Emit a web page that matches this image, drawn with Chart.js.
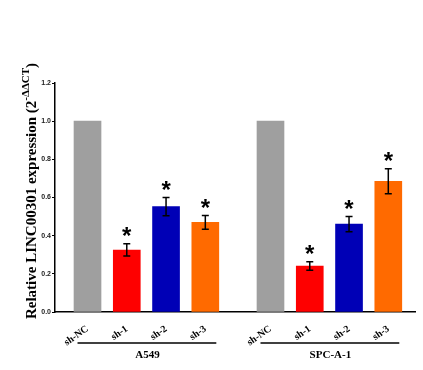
<!DOCTYPE html>
<html>
<head>
<meta charset="utf-8">
<script src="https://cdn.jsdelivr.net/npm/chart.js@4/dist/chart.umd.min.js"></script>
<style>
html,body{margin:0;padding:0;background:#fff;}
#wrap{width:423px;height:370px;position:relative;}
</style>
</head>
<body>
<div id="wrap"><canvas id="c" width="423" height="370"></canvas></div>
<script>
const categories = ['sh-NC','sh-1','sh-2','sh-3','sh-NC','sh-1','sh-2','sh-3'];
const positions = [0, 1, 2, 3, 4.66, 5.66, 6.66, 7.66];
const values = [1.0, 0.325, 0.552, 0.470, 1.0, 0.241, 0.461, 0.685];
const errors = [0, 0.032, 0.048, 0.036, 0, 0.022, 0.040, 0.066];
const significant = [false, true, true, true, false, true, true, true];
const barColors = ['#9f9f9f','#fe0000','#0000b6','#ff6a00','#9f9f9f','#fe0000','#0000b6','#ff6a00'];
const groups = ['A549','SPC-A-1'];
const groupMembers = [[0,3],[4,7]];
const yTicks = [0, 0.2, 0.4, 0.6, 0.8, 1.0, 1.2];

const serif = '"Liberation Serif", "Times New Roman", serif';
const sans = '"Liberation Sans", Arial, sans-serif';

const extras = {
  id: 'extras',
  afterDatasetsDraw(chart) {
    const ctx = chart.ctx;
    const xs = chart.scales.x, ys = chart.scales.y;
    ctx.save();
    ctx.strokeStyle = '#000';
    ctx.lineWidth = 1.5;
    values.forEach((v, i) => {
      const x = xs.getPixelForValue(positions[i]);
      if (errors[i] > 0) {
        const t = ys.getPixelForValue(v + errors[i]);
        const b = ys.getPixelForValue(v - errors[i]);
        ctx.beginPath();
        ctx.moveTo(x, t); ctx.lineTo(x, b);
        ctx.moveTo(x - 3.5, t); ctx.lineTo(x + 3.5, t);
        ctx.moveTo(x - 3.5, b); ctx.lineTo(x + 3.5, b);
        ctx.stroke();
      }
      if (significant[i]) {
        const top = ys.getPixelForValue(v + errors[i]);
        ctx.font = 'bold 24px ' + sans;
        ctx.fillStyle = '#000';
        ctx.textAlign = 'center';
        ctx.textBaseline = 'alphabetic';
        const m = ctx.measureText('*');
        const asc = m.actualBoundingBoxAscent, desc = m.actualBoundingBoxDescent;
        const cy = top - 12;
        const base = cy + (asc - desc) / 2;
        ctx.fillText('*', x, base);
      }
    });
    const lineY = 343, labY = 355;
    groups.forEach((g, k) => {
      const a = xs.getPixelForValue(positions[groupMembers[k][0]]);
      const b = xs.getPixelForValue(positions[groupMembers[k][1]]);
      ctx.beginPath();
      ctx.lineWidth = 1.5;
      ctx.moveTo(a - 10, lineY); ctx.lineTo(b + 11, lineY);
      ctx.stroke();
      ctx.font = 'bold 11px ' + serif;
      ctx.textAlign = 'center';
      ctx.textBaseline = 'middle';
      ctx.fillText(g, (a + b) / 2 + 1, labY);
    });
    const main = 'Relative LINC00301 expression (2';
    const sup = '-ΔΔCT';
    const close = ')';
    const fMain = 'bold 15px ' + serif, fSup = 'bold 11px ' + serif;
    ctx.font = fMain;
    const wM = ctx.measureText(main).width;
    const wC = ctx.measureText(close).width;
    ctx.font = fSup;
    const wS = ctx.measureText(sup).width;
    const total = wM + wS + wC;
    const cx = 36, cyT = 191;
    ctx.translate(cx, cyT);
    ctx.rotate(-Math.PI / 2);
    ctx.textAlign = 'left';
    ctx.textBaseline = 'alphabetic';
    let px = -total / 2;
    ctx.font = fMain; ctx.fillText(main, px, 0); px += wM;
    ctx.font = fSup; ctx.fillText(sup, px, -7); px += wS;
    ctx.font = fMain; ctx.fillText(close, px, 0);
    ctx.restore();
  }
};

new Chart(document.getElementById('c'), {
  type: 'bar',
  data: {
    datasets: [{
      data: positions.map((p, i) => ({x: p, y: values[i]})),
      backgroundColor: barColors,
      borderWidth: 0,
      barThickness: 27
    }]
  },
  options: {
    responsive: false,
    animation: false,
    devicePixelRatio: 1,
    layout: {padding: {top: 83, right: 8, left: 0, bottom: 0}},
    plugins: {legend: {display: false}, tooltip: {enabled: false}},
    scales: {
      x: {
        type: 'linear',
        offset: false,
        min: -0.828, max: 8.34,
        grid: {display: false},
        border: {display: true, color: '#000', width: 1.5},
        afterBuildTicks(scale) { scale.ticks = positions.map(v => ({value: v})); },
        afterFit(scale) { scale.height = 58; },
        ticks: {
          autoSkip: false,
          minRotation: 35, maxRotation: 35,
          padding: 3,
          color: '#000',
          font: {family: serif, size: 10, weight: 'bold'},
          callback(v, idx) { return categories[idx]; }
        }
      },
      y: {
        min: 0, max: 1.2,
        afterBuildTicks(scale) { scale.ticks = yTicks.map(v => ({value: v})); },
        afterFit(scale) { scale.width = 55; },
        grid: {display: true, drawOnChartArea: false, drawTicks: true, tickLength: 3, color: '#000', lineWidth: 1},
        border: {display: true, color: '#000', width: 1.5},
        ticks: {
          padding: 1,
          color: '#222',
          font: {family: sans, size: 7, weight: 'bold'},
          callback(v) { return v.toFixed(1); }
        }
      }
    }
  },
  plugins: [extras]
});
</script>
</body>
</html>
